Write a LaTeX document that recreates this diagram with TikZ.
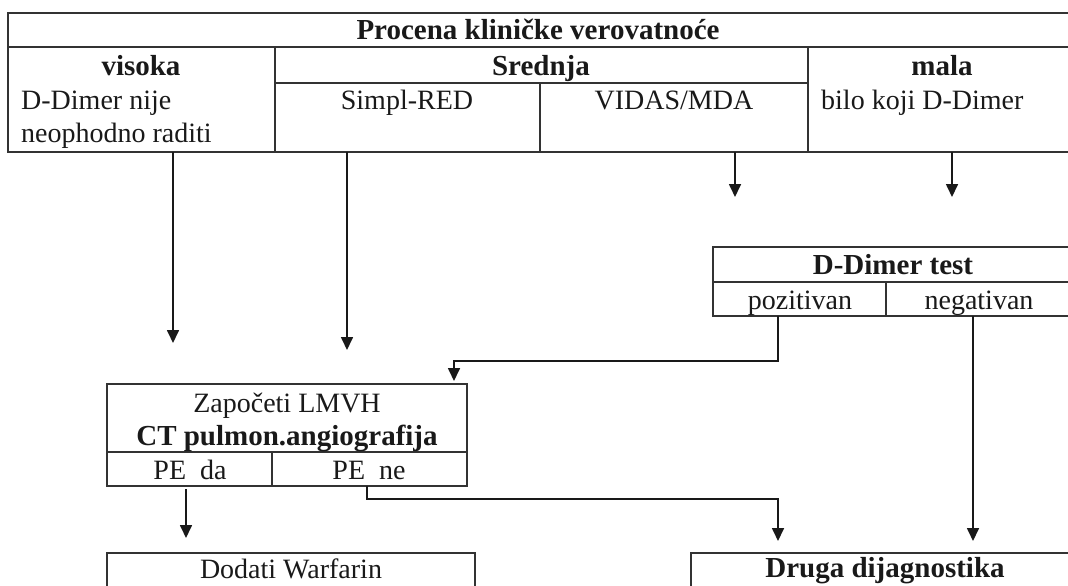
\documentclass[tikz,border=0pt]{standalone}
\usepackage{fontspec}
\setmainfont{Liberation Serif}
\usetikzlibrary{arrows.meta}
\tikzset{
  cell/.style={draw=black!80,line width=1.2pt,inner sep=0pt,outer sep=0pt,rectangle},
  txt/.style={inner sep=0pt,anchor=base,font=\fontsize{28}{33}\selectfont,text=black!90},
  txtl/.style={txt,anchor=base west},
  bold/.style={font=\fontsize{29}{33}\selectfont\bfseries},
  arr/.style={line width=1.7pt,draw=black!90,-{Triangle[length=13pt,width=12pt]}}
}
\begin{document}
\begin{tikzpicture}[x=1pt,y=-1pt]
\useasboundingbox (0,0) rectangle (1068,586);
% top table
\node[cell,minimum width=1062pt,minimum height=34pt] (title) at (539,30) {};
\node[cell,minimum width=267pt,minimum height=105pt] (visoka) at (141.5,99.5) {};
\node[cell,minimum width=533pt,minimum height=36pt] (srednja) at (541.5,65) {};
\node[cell,minimum width=265pt,minimum height=69pt] (simpl) at (407.5,117.5) {};
\node[cell,minimum width=268pt,minimum height=69pt] (vidas) at (674,117.5) {};
\node[cell,minimum width=268pt,minimum height=105pt] (mala) at (942,99.5) {};
\node[txt,bold] (ttitle) at (538,40) {Procena kliničke verovatnoće};
\node[txt,bold] (tvisoka) at (141,76) {visoka};
\node[txtl] (tvis1) at (21,110) {D-Dimer nije};
\node[txtl] (tvis2) at (21,142) {neophodno raditi};
\node[txt,bold] (tsrednja) at (541,76) {Srednja};
\node[txt] (tsimpl) at (407,110) {Simpl-RED};
\node[txt] (tvidas) at (674,110) {VIDAS/MDA};
\node[txt,bold] (tmala) at (942,76) {mala};
\node[txtl] (tmala1) at (821,110) {bilo koji D-Dimer};
% D-Dimer test
\node[cell,minimum width=359pt,minimum height=35pt] (ddt) at (892.5,264.5) {};
\node[cell,minimum width=173pt,minimum height=34pt] (poz) at (799.5,299) {};
\node[cell,minimum width=186pt,minimum height=34pt] (neg) at (979,299) {};
\node[txt,bold] (tddt) at (893,274) {D-Dimer test};
\node[txt] (tpoz) at (800,309) {pozitivan};
\node[txt] (tneg) at (979,309) {negativan};
% CT box
\node[cell,minimum width=360pt,minimum height=68pt] (ct) at (287,418) {};
\node[cell,minimum width=165pt,minimum height=34pt] (peda) at (189.5,469) {};
\node[cell,minimum width=195pt,minimum height=34pt] (pene) at (369.5,469) {};
\node[txt] (tct1) at (287,412) {Započeti LMVH};
\node[txt,bold] (tct2) at (287,445) {CT pulmon.angiografija};
\node[txt] (tpeda) at (190,479) {PE\ \ da};
\node[txt] (tpene) at (369,479) {PE\ \ ne};
% bottom boxes
\node[cell,minimum width=368pt,minimum height=72pt] (dodati) at (291,589) {};
\node[cell,minimum width=388pt,minimum height=72pt] (druga) at (885,589) {};
\node[txt] (tdodati) at (291,578) {Dodati Warfarin};
\node[txt,bold] (tdruga) at (885,577) {Druga dijagnostika};
% x positions and free ends
\coordinate (x1) at (173,0);
\coordinate (x2) at (347,0);
\coordinate (x3) at (735,0);
\coordinate (x4) at (952,0);
\coordinate (x5) at (778,0);
\coordinate (x6) at (973,0);
\coordinate (x7) at (186,0);
\coordinate (x8) at (367,0);
\coordinate (e1) at (173,343);
\coordinate (e2) at (347,350);
\coordinate (e3) at (735,197);
\coordinate (e4) at (952,197);
\coordinate (k5) at (778,361);
\coordinate (e5) at (454,381);
\coordinate (k8) at (367,499);
\coordinate (e6) at (973,541);
\coordinate (e7) at (186,538);
\coordinate (e8) at (778,541);
% connectors
\draw[arr] (visoka.south -| x1) -- (e1);
\draw[arr] (simpl.south -| x2) -- (e2);
\draw[arr] (vidas.south -| x3) -- (e3);
\draw[arr] (mala.south -| x4) -- (e4);
\draw[arr] (poz.south -| x5) -- (k5) -- (k5 -| e5) -- (e5);
\draw[arr] (neg.south -| x6) -- (e6);
\draw[arr] ([yshift=-3pt]peda.south -| x7) -- (e7);
\draw[arr] (pene.south -| x8) -- (k8) -- (k8 -| e8) -- (e8);
\end{tikzpicture}
\end{document}
